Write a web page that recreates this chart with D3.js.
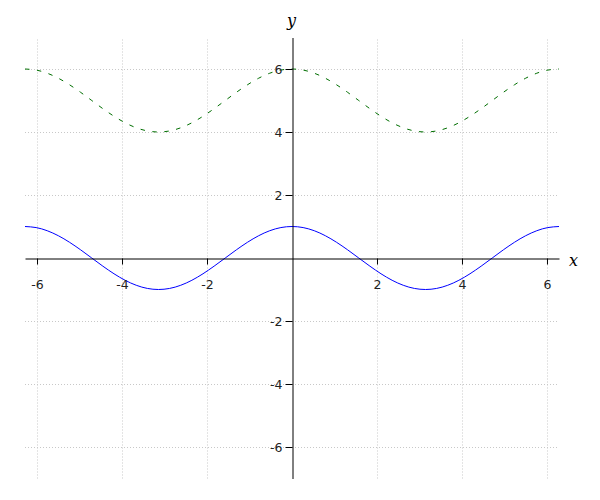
<!DOCTYPE html>
<html><head><meta charset="utf-8">
<script src="https://cdn.jsdelivr.net/npm/d3@7"></script>
<style>body{margin:0;background:#fff}svg{display:block}</style>
</head><body>
<script>
const xs = [-6.283,-6.021,-5.760,-5.498,-5.236,-4.974,-4.712,-4.451,-4.189,-3.927,-3.665,-3.403,-3.142,-2.880,-2.618,-2.356,-2.094,-1.833,-1.571,-1.309,-1.047,-0.785,-0.524,-0.262,0,
  0.262,0.524,0.785,1.047,1.309,1.571,1.833,2.094,2.356,2.618,2.880,3.142,3.403,3.665,3.927,4.189,4.451,4.712,4.974,5.236,5.498,5.760,6.021,6.283];
const blueY = [1,0.966,0.866,0.707,0.5,0.259,0,-0.259,-0.5,-0.707,-0.866,-0.966,-1,-0.966,-0.866,-0.707,-0.5,-0.259,0,0.259,0.5,0.707,0.866,0.966,1,
  0.966,0.866,0.707,0.5,0.259,0,-0.259,-0.5,-0.707,-0.866,-0.966,-1,-0.966,-0.866,-0.707,-0.5,-0.259,0,0.259,0.5,0.707,0.866,0.966,1];
const greenY = [6,5.966,5.866,5.707,5.5,5.259,5,4.741,4.5,4.293,4.134,4.034,4,4.034,4.134,4.293,4.5,4.741,5,5.259,5.5,5.707,5.866,5.966,6,
  5.966,5.866,5.707,5.5,5.259,5,4.741,4.5,4.293,4.134,4.034,4,4.034,4.134,4.293,4.5,4.741,5,5.259,5.5,5.707,5.866,5.966,6];
const xTicks = [-6,-4,-2,2,4,6];
const yTicks = [-6,-4,-2,2,4,6];

const W = 600, H = 500;
const svg = d3.select("body").append("svg").attr("width", W).attr("height", H);
const x = d3.scaleLinear().domain([-6.283, 6.283]).range([25, 559]);
const y = d3.scaleLinear().domain([-7, 7]).range([478.5, 37.5]);

// grid
const gGrid = svg.append("g");
gGrid.append("g").attr("transform", `translate(0,${y(-7)})`)
  .call(d3.axisBottom(x).tickValues(xTicks).tickSize(-(y(-7) - y(7))).tickFormat(""))
  .call(g => g.select(".domain").remove());
gGrid.append("g").attr("transform", `translate(${x(-6.283)},0)`)
  .call(d3.axisLeft(y).tickValues(yTicks).tickSize(-(x(6.283) - x(-6.283))).tickFormat(""))
  .call(g => g.select(".domain").remove());
gGrid.selectAll("line").attr("stroke", "#c8c8c8").attr("stroke-width", 1).attr("stroke-dasharray", "1,2");

// curves
const line = d3.line().x(d => x(d[0])).y(d => y(d[1])).curve(d3.curveNatural);
svg.append("path").datum(xs.map((v, i) => [v, greenY[i]]))
  .attr("d", line).attr("fill", "none").attr("stroke", "#006e00").attr("stroke-width", 1)
  .attr("stroke-dasharray", "4.5,7.5");
svg.append("path").datum(xs.map((v, i) => [v, blueY[i]]))
  .attr("d", line).attr("fill", "none").attr("stroke", "#0000ff").attr("stroke-width", 1);

// axes
const xAx = svg.append("g").attr("transform", `translate(0,${Math.round(y(0)) + 0.5})`)
  .call(d3.axisBottom(x).tickValues(xTicks).tickSize(6).tickSizeOuter(0).tickPadding(16).tickFormat(d => d < 0 ? "-" + Math.abs(d) : d));
const yAx = svg.append("g").attr("transform", `translate(${Math.round(x(0)) + 0.5},0)`)
  .call(d3.axisLeft(y).tickValues(yTicks).tickSize(7).tickSizeOuter(0).tickPadding(3).tickFormat(d => d < 0 ? "-" + Math.abs(d) : d));
[xAx, yAx].forEach(g => {
  g.selectAll("path, line").attr("stroke", "#000");
  g.selectAll("text").attr("font-family", "DejaVu Sans").attr("font-size", 12.5).attr("fill", "#222");
});

svg.append("text").attr("x", 569).attr("y", y(0) + 8).text("x")
  .attr("font-family", "DejaVu Serif").attr("font-style", "italic").attr("font-size", 16);
svg.append("text").attr("x", 287).attr("y", 26).text("y")
  .attr("font-family", "DejaVu Serif").attr("font-style", "italic").attr("font-size", 16);
</script>
</body></html>
